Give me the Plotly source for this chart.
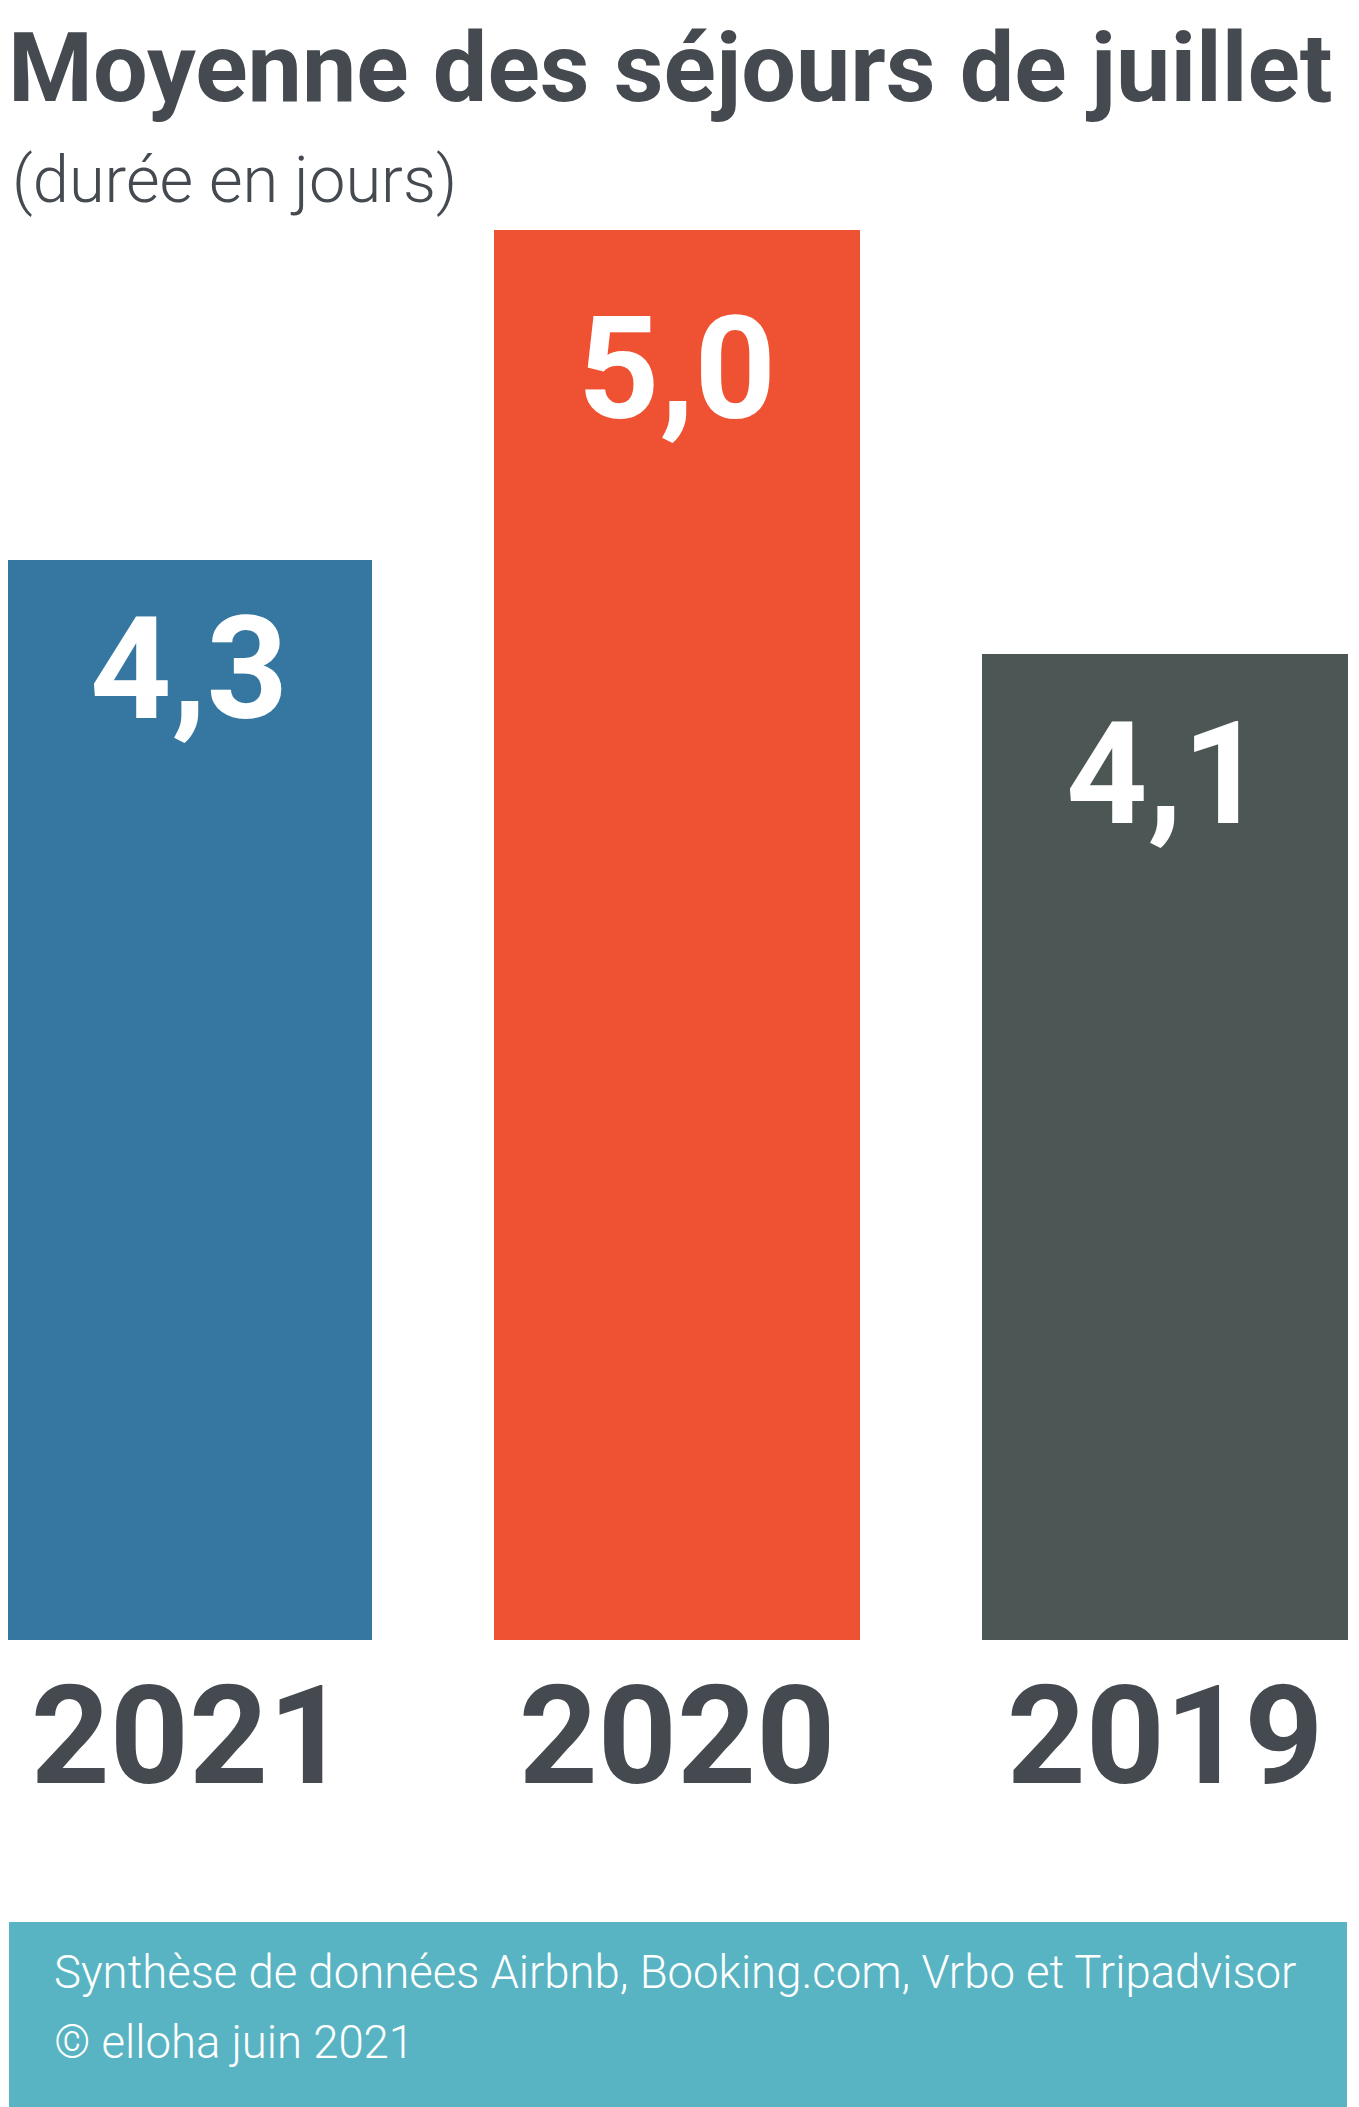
import plotly.graph_objects as go

# Data
years = ['2021', '2020', '2019']
durations = [4.3, 5.0, 4.1]
value_labels = ['4,3', '5,0', '4,1']

TITLE = 'Moyenne des séjours de juillet'
SUBTITLE = '(durée en jours)'
SOURCE_LINES = ['Synthèse de données Airbnb, Booking.com, Vrbo et Tripadvisor',
                '© elloha juin 2021']

COLORS = {
    'bars': ['#3577a0', '#ef5232', '#4c5654'],
    'text': '#444a50',
    'footer': '#58b4c2',
}
FONT = 'Roboto, Liberation Sans, sans-serif'

# page is shown with the browser's 8px body margin, so build the figure 8px smaller
OFF = 8
W, H = 1359 - OFF, 2107 - OFF
TOP, BOTTOM = 160, 1640            # plot area rows on the page
PX_PER_DAY = 471.7
Y0 = 2.01                          # truncated axis start
Y1 = Y0 + (BOTTOM - TOP) / PX_PER_DAY
SLOT = 488                         # px between bar centres
FIRST = 189 - OFF                  # centre of the first bar


def px_(x):
    """page column -> paper x"""
    return (x - OFF) / W


def py(y):
    """page row -> paper y"""
    return (BOTTOM - y) / (BOTTOM - TOP)


x_idx = list(range(len(years)))

fig = go.Figure(go.Bar(
    x=x_idx,
    y=durations,
    width=0.75,
    marker=dict(color=COLORS['bars'], line=dict(width=0)),
    hoverinfo='skip',
))

# value labels inside the bars (placed by hand in the original)
label_shift = [-24, -54, -35]
for i, (v, lab) in enumerate(zip(durations, value_labels)):
    fig.add_annotation(
        x=i, y=v, xref='x', yref='y', text=f'<b>{lab}</b>',
        showarrow=False, yanchor='top', yshift=label_shift[i],
        font=dict(family=FONT, size=142, color='white'),
    )

# title + subtitle
fig.add_annotation(
    x=px_(6), y=py(OFF + 1), xref='paper', yref='paper', xanchor='left', yanchor='top',
    text=f'<b>{TITLE}</b>', showarrow=False,
    font=dict(family=FONT, size=97, color=COLORS['text']),
)
fig.add_annotation(
    x=px_(10), y=py(140), xref='paper', yref='paper', xanchor='left', yanchor='top',
    text=SUBTITLE, showarrow=False,
    font=dict(family=FONT, size=65, color=COLORS['text'], weight=300),
)

# source box
fig.add_shape(
    type='rect', xref='paper', yref='paper',
    x0=px_(9), x1=px_(1347), y0=py(2107), y1=py(1922),
    fillcolor=COLORS['footer'], line=dict(width=0), layer='below',
)
for line, row in zip(SOURCE_LINES, [1944, 2014]):
    fig.add_annotation(
        x=px_(52), y=py(row), xref='paper', yref='paper', xanchor='left', yanchor='top',
        text=line, showarrow=False, align='left',
        font=dict(family=FONT, size=45.5, color='white', weight=300),
    )

fig.update_layout(
    width=W, height=H,
    margin=dict(l=0, r=0, t=TOP - OFF, b=H - (BOTTOM - OFF), autoexpand=False),
    paper_bgcolor='white', plot_bgcolor='white',
    showlegend=False,
    bargap=0,
)
fig.update_xaxes(
    range=[-FIRST / SLOT, (W - FIRST) / SLOT],
    tickvals=x_idx, ticktext=[f'<b>{y}</b>' for y in years],
    tickfont=dict(family=FONT, size=138, color=COLORS['text']),
    ticks='', ticklabelstandoff=4, ticklabeloverflow='allow',
    showgrid=False, zeroline=False, showline=False,
)
fig.update_yaxes(range=[Y0, Y1], visible=False)

fig.write_html('out.html')
